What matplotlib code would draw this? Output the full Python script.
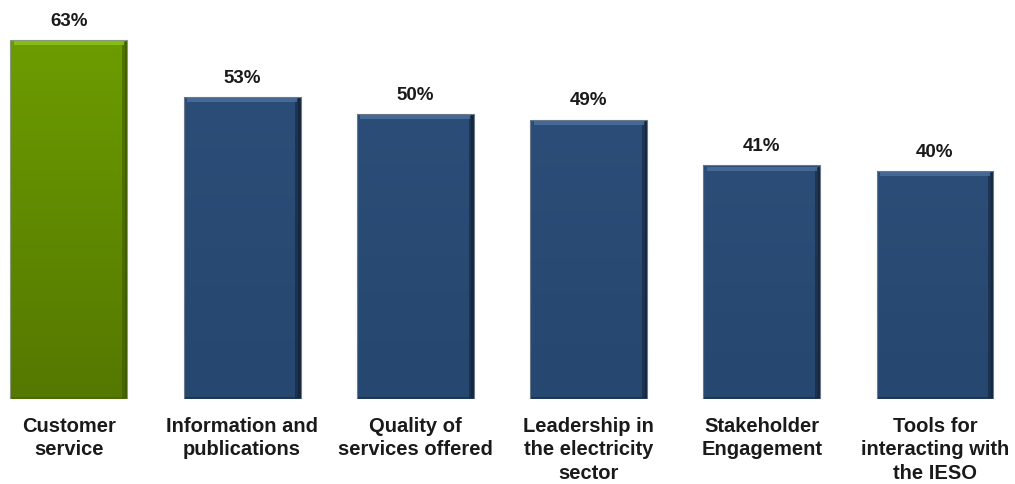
import numpy as np
import matplotlib
matplotlib.use('Agg')
import matplotlib.pyplot as plt
from matplotlib.colors import LinearSegmentedColormap

categories = ["Customer\nservice", "Information and\npublications", "Quality of\nservices offered",
              "Leadership in\nthe electricity\nsector", "Stakeholder\nEngagement",
              "Tools for\ninteracting with\nthe IESO"]
values = [63, 53, 50, 49, 41, 40]
highlight = [True, False, False, False, False, False]

plt.rcParams['font.family'] = ['Liberation Sans', 'DejaVu Sans']

fig = plt.figure(figsize=(10.15, 4.85), dpi=100)
ax = fig.add_axes([0, 85 / 485, 1, 400 / 485])
ax.set_xlim(-0.398, 5.462)
ax.set_ylim(0, 70.2)
ax.axis('off')

width = 0.675
x = np.arange(len(values))

green_map = LinearSegmentedColormap.from_list('g', ['#557800', '#6c9c00'])
blue_map = LinearSegmentedColormap.from_list('b', ['#26476f', '#2b4d77'])

bars = ax.bar(x, values, width=width, color='none', edgecolor='none')
for bar, v, hl in zip(bars, values, highlight):
    x0 = bar.get_x()
    cmap = green_map if hl else blue_map
    # vertical gradient clipped to the bar
    grad = np.linspace(0, 1, 256).reshape(-1, 1)
    im = ax.imshow(grad, cmap=cmap, origin='lower', aspect='auto',
                   extent=(x0, x0 + width, 0, v), zorder=1)
    im.set_clip_path(bar)
    edge = '#3f5a00' if hl else '#15243a'
    top = '#8cc21a' if hl else '#4a6f9c'
    # darker bevel on right and bottom
    ax.bar(x0 + width - 0.03, v - 0.6, width=0.03, bottom=0.2, align='edge',
           color=edge, alpha=0.6, zorder=2)
    ax.bar(x0 + width - 0.014, v - 0.4, width=0.014, bottom=0.2, align='edge',
           color=edge, alpha=0.8, zorder=2)
    ax.bar(x0, 0.35, width=width, bottom=0, align='edge', color=edge, alpha=0.5, zorder=2)
    # lighter bevel along the top
    ax.bar(x0 + 0.02, 0.7, width=width - 0.04, bottom=v - 0.9, align='edge',
           color=top, alpha=0.85, zorder=2)
    ax.bar(x0, v, width=width, align='edge', color='none',
           edgecolor='#8a9a7a' if hl else '#6a7888', linewidth=0.8, zorder=3)
    ax.text(bar.get_x() + width / 2, v + 2.0, "%d%%" % v, ha='center', va='bottom',
            fontsize=13.5, fontweight='bold', color='#1a1a1a')

for xi, label in zip(x, categories):
    ax.text(xi, -2.9, label, ha='center', va='top', fontsize=14.5, fontweight='bold',
            color='#1a1a1a', linespacing=1.3, clip_on=False)

fig.savefig('out.png', dpi=100)
